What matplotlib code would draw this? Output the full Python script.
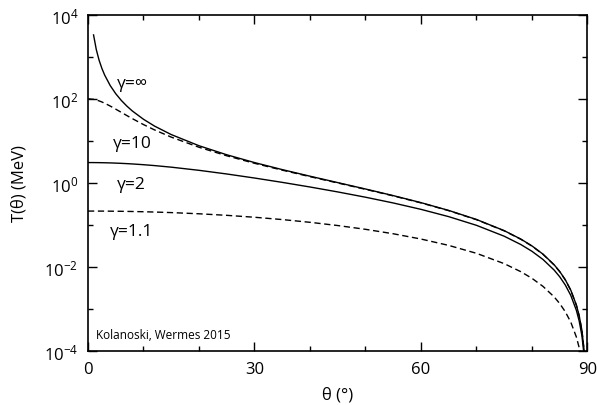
import matplotlib
matplotlib.use("Agg")
import matplotlib.pyplot as plt
from matplotlib.ticker import FixedLocator, LogFormatterSciNotation, NullFormatter

plt.rcParams["font.family"] = ["Open Sans", "DejaVu Sans"]
plt.rcParams["mathtext.fontset"] = "custom"
plt.rcParams["mathtext.rm"] = "Open Sans"
plt.rcParams["mathtext.it"] = "Open Sans:italic"
plt.rcParams["mathtext.bf"] = "Open Sans:bold"

# emission angle of the delta electron (degrees)
theta = [0, 1, 1.5, 2, 2.5, 3, 4, 5, 6, 7, 8, 10, 12, 15, 20, 25, 30, 35, 40,
         45, 50, 55, 60, 65, 70, 75, 78, 80, 82, 84, 85, 86, 87, 88, 88.5, 89, 89.5]

# kinetic energy T(theta) in MeV for each projectile Lorentz factor
t_inf = [None, 3354, 1490.5, 838.1, 536.1, 372.1, 209.0, 133.5, 92.5, 67.8, 51.7,
         32.9, 22.6, 14.23, 7.715, 4.700, 3.066, 2.084, 1.4515, 1.022, 0.7196,
         0.5011, 0.3407, 0.2222, 0.1354, 0.07338, 0.04617, 0.03178, 0.02019,
         0.01129, 7.823e-3, 4.997e-3, 2.807e-3, 1.246e-3, 7.008e-4, 3.114e-4,
         7.783e-5]
t_10 = [101.18, 98.19, 94.69, 90.18, 84.98, 79.38, 67.95, 57.31, 48.07, 40.35,
        34.01, 24.62, 18.34, 12.37, 7.101, 4.449, 2.947, 2.0224, 1.4169, 1.00176,
        0.7074, 0.4936, 0.3361, 0.21953, 0.13386, 0.07259, 0.04569, 0.031448,
        0.019980, 0.011176, 7.744e-3, 4.947e-3, 2.779e-3, 1.2338e-3, 6.937e-4,
        3.083e-4, 7.705e-5]
t_2 = [3.066, 3.0623, 3.0576, 3.0511, 3.0428, 3.0327, 3.0072, 2.9749, 2.9363,
       2.8916, 2.8415, 2.7269, 2.5967, 2.3819, 2.0041, 1.6398, 1.3140, 1.0354,
       0.80338, 0.6132, 0.45891, 0.33477, 0.23585, 0.15808, 0.09829, 0.05406,
       0.03424, 0.023648, 0.015065, 8.444e-3, 5.856e-3, 3.743e-3, 2.104e-3,
       9.345e-4, 5.255e-4, 2.335e-4, 5.837e-5]
t_11 = [0.21462, 0.21454, 0.21444, 0.21430, 0.21413, 0.21391, 0.21336, 0.21265,
        0.21179, 0.21078, 0.20961, 0.20684, 0.20350, 0.19747, 0.18497, 0.16991,
        0.15294, 0.13471, 0.11589, 0.097113, 0.078947, 0.061887, 0.046354,
        0.032693, 0.021179, 0.012021, 7.725e-3, 5.377e-3, 3.447e-3, 1.9416e-3,
        1.3491e-3, 8.638e-4, 4.861e-4, 2.161e-4, 1.2155e-4, 5.403e-5, 1.2e-5]

curve_labels = ["γ=∞", "γ=10", "γ=2", "γ=1.1"]
x_ticks = [0, 30, 60, 90]
credit = "Kolanoski, Wermes 2015"

fig = plt.figure(figsize=(5.97, 4.06), dpi=100)
ax = fig.add_axes([0.1474, 0.133, 0.8366, 0.8276])

lw = 1.0
dash = (0, (4.5, 2.6))
ax.plot(theta[1:], t_inf[1:], color="black", lw=lw)
ax.plot(theta, t_10, color="black", lw=lw, linestyle=dash)
ax.plot(theta, t_2, color="black", lw=lw)
ax.plot(theta, t_11, color="black", lw=lw, linestyle=dash)

ax.set_yscale("log")
ax.set_xlim(0, 90)
ax.set_ylim(1e-4, 1e4)

ax.xaxis.set_major_locator(FixedLocator(x_ticks))
ax.xaxis.set_minor_locator(FixedLocator([10, 20, 40, 50, 70, 80]))
ax.yaxis.set_major_locator(FixedLocator([1e-4, 1e-2, 1e0, 1e2, 1e4]))
ax.yaxis.set_minor_locator(FixedLocator([1e-3, 1e-1, 1e1, 1e3]))
ax.yaxis.set_major_formatter(LogFormatterSciNotation())
ax.yaxis.set_minor_formatter(NullFormatter())

ax.tick_params(which="both", direction="in", top=True, right=True,
               labelsize=12, width=1.0, color="black")
ax.tick_params(which="major", length=6.5, pad=7)
ax.tick_params(which="minor", length=3.5)
for s in ax.spines.values():
    s.set_linewidth(1.2)

ax.set_xlabel("θ (°)", fontsize=12, labelpad=7)
ax.set_ylabel("T(θ) (MeV)", fontsize=12, labelpad=12)

label_pos = [(8.1, 10**2.38), (8.0, 10**0.95), (7.8, 10**-0.02), (7.8, 10**-1.14)]
for txt, (x, y) in zip(curve_labels, label_pos):
    ax.text(x, y, txt, fontsize=12.5, ha="center", va="center")

ax.text(1.4, 10**-3.6, credit, fontsize=8.5, ha="left", va="center")

fig.savefig("out.png", dpi=100)
